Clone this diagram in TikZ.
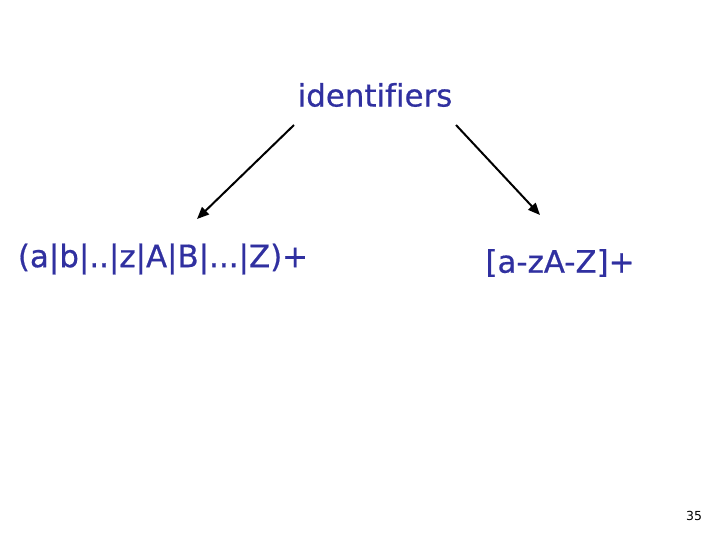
\documentclass[tikz,border=0pt]{standalone}
\usepackage{fontspec}
\setmainfont[Ligatures=NoCommon,FakeBold=0.6]{DejaVu Sans}
\newfontfamily\pgfont{DejaVu Sans}
\usetikzlibrary{arrows.meta}
\definecolor{txtblue}{RGB}{48,48,160}
\begin{document}
\begin{tikzpicture}[x=1bp,y=-1bp,
  lbl/.style={inner sep=0pt,text=txtblue,font=\fontsize{31}{37}\selectfont},
  arr/.style={line width=2bp,-{Triangle[length=12bp,width=10bp]}}]
\useasboundingbox (0,0) rectangle (720,540);
\node[lbl] (id) at (375,95) {identifiers};
\node[lbl] (re1) at (163,259) {(a|b|..|z|A|B|...|Z)+};
\node[lbl] (re2) at (560,263) {[a-zA-Z]+};
\node[inner sep=0pt,font=\pgfont\fontsize{12.5}{14}\selectfont] (pg) at (694,516) {35};
\coordinate (s1) at (294,125);
\coordinate (e1) at (197,219);
\coordinate (s2) at (456,125);
\coordinate (e2) at (540,215);
\draw[arr] (s1) -- (e1);
\draw[arr] (s2) -- (e2);
\end{tikzpicture}
\end{document}
